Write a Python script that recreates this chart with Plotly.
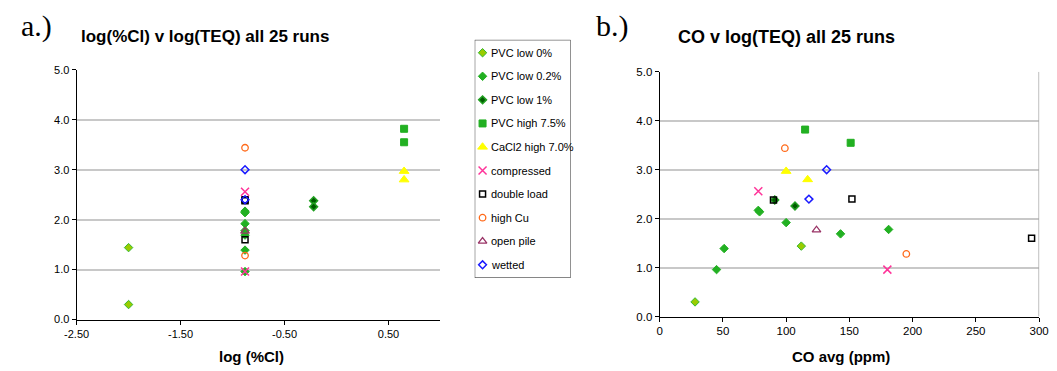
import plotly.graph_objects as go

W, H = 1057, 371

# ---------------- data ----------------
series_names = ["PVC low 0%", "PVC low 0.2%", "PVC low 1%", "PVC high 7.5%",
                "CaCl2 high 7.0%", "compressed", "double load", "high Cu",
                "open pile", "wetted"]

cl_pvc0 = [-2.0, -2.0]
co_pvc0 = [28, 112]
teq_pvc0 = [0.30, 1.44]

cl_pvc02 = [-0.88, -0.88, -0.88, -0.88, -0.88, -0.88, -0.88]
co_pvc02 = [45, 51, 78, 79, 100, 143, 181]
teq_pvc02 = [0.96, 1.39, 2.17, 2.14, 1.92, 1.69, 1.78]

cl_pvc1 = [-0.22, -0.22]
co_pvc1 = [91, 107]
teq_pvc1 = [2.38, 2.26]

cl_pvch = [0.65, 0.65]
co_pvch = [115, 151]
teq_pvch = [3.82, 3.55]

cl_cacl2 = [0.65, 0.65]
co_cacl2 = [100, 117]
teq_cacl2 = [2.97, 2.80]

cl_comp = [-0.88, -0.88]
co_comp = [78, 180]
teq_comp = [2.56, 0.96]

cl_double = [-0.88, -0.88, -0.88]
co_double = [90, 152, 294]
teq_double = [2.38, 2.40, 1.60]

cl_cu = [-0.88, -0.88]
co_cu = [99, 195]
teq_cu = [3.44, 1.28]

cl_open = [-0.88]
co_open = [124]
teq_open = [1.77]

cl_wet = [-0.88, -0.88]
co_wet = [132, 118]
teq_wet = [3.00, 2.40]

cl_tickvals = [-2.5, -1.5, -0.5, 0.5]
cl_ticktext = ["-2.50", "-1.50", "-0.50", "0.50"]
co_tickvals = [0, 50, 100, 150, 200, 250, 300]
teq_tickvals = [0, 1, 2, 3, 4, 5]
teq_ticktext = ["0.0", "1.0", "2.0", "3.0", "4.0", "5.0"]

# ---------------- styles ----------------
styles = [
    dict(symbol="diamond", size=6.5, color="#99CC00", line=dict(color="#33B833", width=1)),
    dict(symbol="diamond", size=6.5, color="#22B022", line=dict(color="#22B022", width=1)),
    dict(symbol="diamond", size=6, color="#005C00", line=dict(color="#22A022", width=1.5)),
    dict(symbol="square", size=7, color="#22B022", line=dict(color="#22B022", width=1)),
    dict(symbol="triangle-up", size=8.5, color="#FFFF00", line=dict(color="#FFFF00", width=1)),
    dict(symbol="x-thin-open", size=8, color="#FF3399", line=dict(color="#FF3399", width=1.5)),
    dict(symbol="square-open", size=6, color="#000000", line=dict(color="#000000", width=1.5)),
    dict(symbol="circle-open", size=6.5, color="#FF6A1A", line=dict(color="#FF6A1A", width=1.3)),
    dict(symbol="triangle-up-open", size=7.5, color="#993366", line=dict(color="#993366", width=1.3)),
    dict(symbol="diamond-open", size=6, color="#1A1AFF", line=dict(color="#1A1AFF", width=1.5)),
]

cl_data = [cl_pvc0, cl_pvc02, cl_pvc1, cl_pvch, cl_cacl2, cl_comp, cl_double, cl_cu, cl_open, cl_wet]
co_data = [co_pvc0, co_pvc02, co_pvc1, co_pvch, co_cacl2, co_comp, co_double, co_cu, co_open, co_wet]
teq_data = [teq_pvc0, teq_pvc02, teq_pvc1, teq_pvch, teq_cacl2, teq_comp, teq_double, teq_cu, teq_open, teq_wet]


def dom_x(a, b):
    return [a / W, b / W]


def dom_y(top, bottom):
    return [(H - bottom) / H, (H - top) / H]


def px(x):
    return x / W


def py(y):
    return (H - y) / H


FONT = "Arial, Liberation Sans, sans-serif"
SERIF = "Liberation Serif, Times New Roman, serif"

fig = go.Figure()

for name, st, cl, co, teq in zip(series_names, styles, cl_data, co_data, teq_data):
    fig.add_trace(go.Scatter(x=cl, y=teq, mode="markers", name=name, marker=st,
                             xaxis="x", yaxis="y", showlegend=False))
    fig.add_trace(go.Scatter(x=co, y=teq, mode="markers", name=name, marker=st,
                             xaxis="x2", yaxis="y2", showlegend=False))

# manual legend (markers on a helper axis in pixel units)
leg_rows = [13.3 + i * 24.35 for i in range(len(series_names))]
for i, (name, st) in enumerate(zip(series_names, styles)):
    fig.add_trace(go.Scatter(x=[8], y=[leg_rows[i]], mode="markers", marker=st, name=name,
                             xaxis="x3", yaxis="y3", showlegend=False, hoverinfo="skip"))

annotations = []
for i, name in enumerate(series_names):
    annotations.append(dict(x=15, y=leg_rows[i], xref="x3", yref="y3", text=name,
                            showarrow=False, xanchor="left", yanchor="middle",
                            font=dict(family=FONT, size=11, color="#000000")))

annotations += [
    dict(x=px(6), y=py(21), xref="paper", yref="paper", text="a.)", showarrow=False,
         xanchor="left", yanchor="middle", font=dict(family=SERIF, size=30, color="#000")),
    dict(x=px(594), y=py(21), xref="paper", yref="paper", text="b.)", showarrow=False,
         xanchor="left", yanchor="middle", font=dict(family=SERIF, size=30, color="#000")),
    dict(x=px(67), y=py(32), xref="paper", yref="paper", text="<b>log(%Cl) v log(TEQ) all 25 runs</b>",
         showarrow=False, xanchor="left", yanchor="middle", font=dict(family=FONT, size=17, color="#000")),
    dict(x=px(678), y=py(32), xref="paper", yref="paper", text="<b>CO v log(TEQ) all 25 runs</b>",
         showarrow=False, xanchor="left", yanchor="middle", font=dict(family=FONT, size=18, color="#000")),
    dict(x=px(244), y=py(362), xref="paper", yref="paper", text="<b>log (%Cl)</b>",
         showarrow=False, xanchor="center", yanchor="middle", font=dict(family=FONT, size=15, color="#000")),
    dict(x=px(846), y=py(362), xref="paper", yref="paper", text="<b>CO avg (ppm)</b>",
         showarrow=False, xanchor="center", yanchor="middle", font=dict(family=FONT, size=15, color="#000")),
]

axis_common = dict(showline=True, linecolor="#000000", linewidth=1, ticks="outside",
                   ticklen=4, tickcolor="#000000", tickwidth=1, zeroline=False,
                   tickfont=dict(family=FONT, size=11, color="#000000"), fixedrange=True,
                   ticklabeloverflow="allow")

yaxis_common = dict(axis_common, range=[0, 5], tickvals=teq_tickvals, ticktext=teq_ticktext,
                    showgrid=True, gridcolor="#C8C8C8", gridwidth=1.5)

shapes = [
    dict(type="rect", xref="x3", yref="y3", x0=0, x1=98, y0=0, y1=246,
         line=dict(color="#333333", width=1), fillcolor="rgba(0,0,0,0)"),
    dict(type="line", xref="x2", yref="y2", x0=300, x1=300, y0=0, y1=5,
         line=dict(color="#A8A8A8", width=1.5)),
]

fig.update_layout(
    width=W, height=H,
    margin=dict(l=0, r=0, t=0, b=0),
    paper_bgcolor="white", plot_bgcolor="white",
    showlegend=False,
    xaxis=dict(axis_common, domain=dom_x(65, 437), range=[-2.5, 1.0],
               tickvals=cl_tickvals, ticktext=cl_ticktext, showgrid=False, anchor="y"),
    yaxis=dict(yaxis_common, domain=dom_y(66, 324), anchor="x"),
    xaxis2=dict(axis_common, domain=dom_x(661, 1049), range=[0, 300],
                tickvals=co_tickvals, showgrid=False, anchor="y2",
                tickfont=dict(family=FONT, size=11.5, color="#000000")),
    yaxis2=dict(yaxis_common, domain=dom_y(68, 321), anchor="x2",
                tickfont=dict(family=FONT, size=11.5, color="#000000")),
    xaxis3=dict(domain=dom_x(472, 570), range=[0, 98], visible=False, fixedrange=True, anchor="y3"),
    yaxis3=dict(domain=dom_y(35, 281), range=[246, 0], visible=False, fixedrange=True, anchor="x3"),
    annotations=annotations,
    shapes=shapes,
)

fig.write_html("out.html", config={"displayModeBar": False},
               post_script="document.body.style.margin='0';document.body.style.overflow='hidden';")
